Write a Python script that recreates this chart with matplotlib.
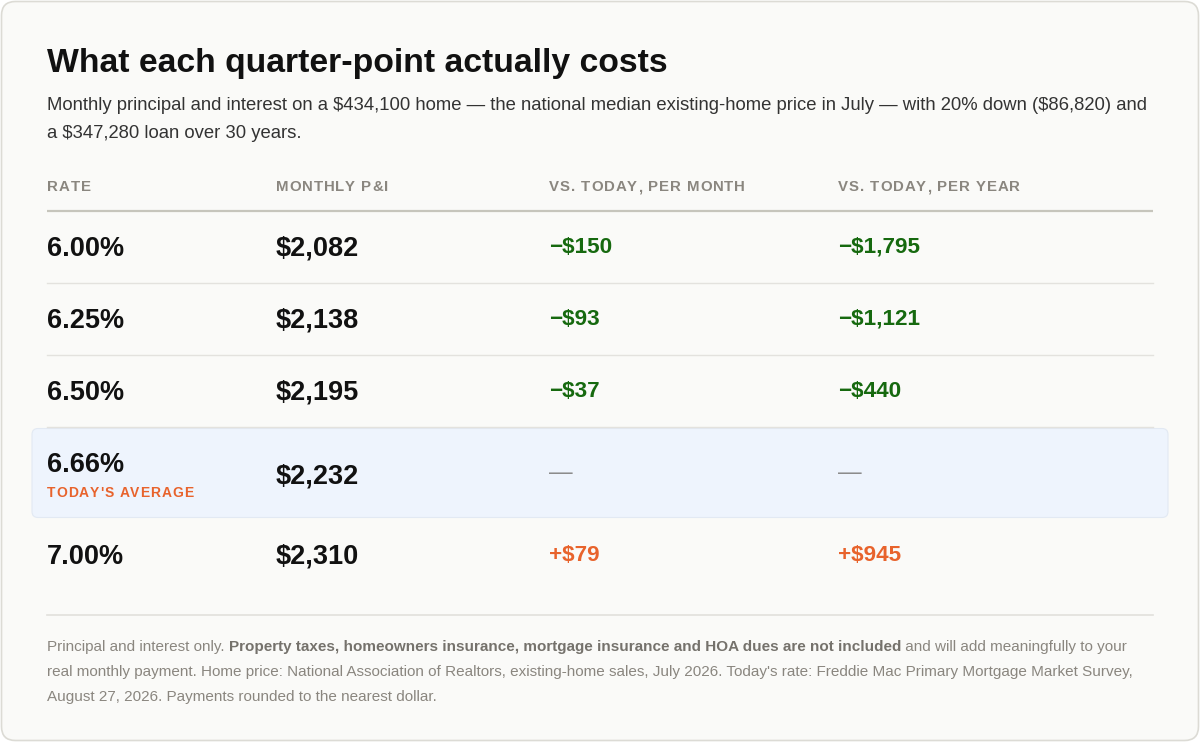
import matplotlib.pyplot as plt
from matplotlib.patches import FancyBboxPatch

plt.rcParams['font.family'] = ['Liberation Sans', 'DejaVu Sans']
plt.rcParams['text.parse_math'] = False

# table data
rates = ["6.00%", "6.25%", "6.50%", "6.66%", "7.00%"]
monthly = [2082, 2138, 2195, 2232, 2310]
per_month = [-150, -93, -37, None, 79]
per_year = [-1795, -1121, -440, None, 945]
today_idx = 3
headers = ["RATE", "MONTHLY P&I", "VS. TODAY, PER MONTH", "VS. TODAY, PER YEAR"]

title = "What each quarter-point actually costs"
subtitle = ["Monthly principal and interest on a $434,100 home \u2014 the national median existing-home price in July \u2014 with 20% down ($86,820) and",
            "a $347,280 loan over 30 years."]
footer = [
    [("Principal and interest only. ", False),
     ("Property taxes, homeowners insurance, mortgage insurance and HOA dues are not included", True),
     (" and will add meaningfully to your", False)],
    [("real monthly payment. Home price: National Association of Realtors, existing-home sales, July 2026. Today's rate: Freddie Mac Primary Mortgage Market Survey,", False)],
    [("August 27, 2026. Payments rounded to the nearest dollar.", False)],
]

GREEN = "#16690f"
ORANGE = "#e8632c"
GRAY = "#8a867f"
INK = "#111111"

fig = plt.figure(figsize=(12, 7.42), dpi=100)
fig.patch.set_facecolor("white")
ax = fig.add_axes([0, 0, 1, 1])
ax.set_xlim(0, 1200)
ax.set_ylim(742, 0)
ax.axis("off")

card = FancyBboxPatch((1.5, 1.5), 1197, 739, boxstyle="round,pad=0,rounding_size=14",
                      facecolor="#fafaf8", edgecolor="#dcdbd5", linewidth=1.2)
ax.add_patch(card)

fig.canvas.draw()
renderer = fig.canvas.get_renderer()


def px_width(t):
    bb = t.get_window_extent(renderer=renderer)
    return bb.width


def spaced(x, y, s, size, color, spacing):
    # draw text char by char to mimic letter-spacing
    for ch in s:
        t = ax.text(x, y, ch, fontsize=size, color=color, fontweight="bold", va="baseline")
        if ch == " ":
            w = size * 100 / 72 * 0.28
        else:
            w = px_width(t)
        x += w + spacing


def money(v):
    if v is None:
        return "\u2014"
    sign = "\u2212" if v < 0 else "+"
    return f"{sign}${abs(v):,}"


ax.text(47, 72, title, fontsize=24.3, fontweight="bold", color=INK, va="baseline")
for i, line in enumerate(subtitle):
    ax.text(47, 110 + i * 28, line, fontsize=13.35, color="#333333", va="baseline")

col_x = [47, 276, 549, 838]
for x, h in zip(col_x, headers):
    spaced(x, 191, h, 10.8, GRAY, 0.9)
ax.plot([47, 1153], [210.5, 210.5], color="#c6c5bc", lw=1.6, solid_capstyle="butt")

row_h = 72
row_top = 211
ys = []
y = row_top
for i in range(len(rates)):
    h = 92 if i == today_idx else row_h
    ys.append((y, h))
    y += h

for i, (top, h) in enumerate(ys):
    if i == today_idx:
        hl = FancyBboxPatch((32, top + 1.5), 1136, h - 3, boxstyle="round,pad=0,rounding_size=6",
                            facecolor="#eef4fd", edgecolor="#e2e9f3", linewidth=0.8)
        ax.add_patch(hl)
    elif i < today_idx:
        ax.plot([47, 1153], [top + h, top + h], color="#e3e2de", lw=1)

    mid = top + h / 2
    if i == today_idx:
        ax.text(47, mid - 1, rates[i], fontsize=19.5, fontweight="bold", color=INK, va="baseline")
        spaced(47, mid + 24, "TODAY'S AVERAGE", 10, ORANGE, 0.9)
        base = mid + 10
    else:
        base = mid + 9
        ax.text(47, base, rates[i], fontsize=19.5, fontweight="bold", color=INK, va="baseline")
    ax.text(276, base, f"${monthly[i]:,}", fontsize=19.5, fontweight="bold", color=INK, va="baseline")

    for x, vals in ((549, per_month), (838, per_year)):
        v = vals[i]
        if v is None:
            ax.text(x, mid, money(v), fontsize=17, color="#8c8c8c", va="center")
        else:
            c = GREEN if v < 0 else ORANGE
            ax.text(x, mid + 6, money(v), fontsize=16.2, fontweight="bold", color=c, va="baseline")

ax.plot([47, 1153], [614.5, 614.5], color="#e1e0dc", lw=1.2)

for j, segs in enumerate(footer):
    x = 47
    yb = 651 + j * 25
    for s, bold in segs:
        t = ax.text(x, yb, s, fontsize=11.0, va="baseline",
                    color="#75726c" if bold else GRAY,
                    fontweight="bold" if bold else "normal")
        x += px_width(t)

fig.savefig("out.png", dpi=100, facecolor="white")
